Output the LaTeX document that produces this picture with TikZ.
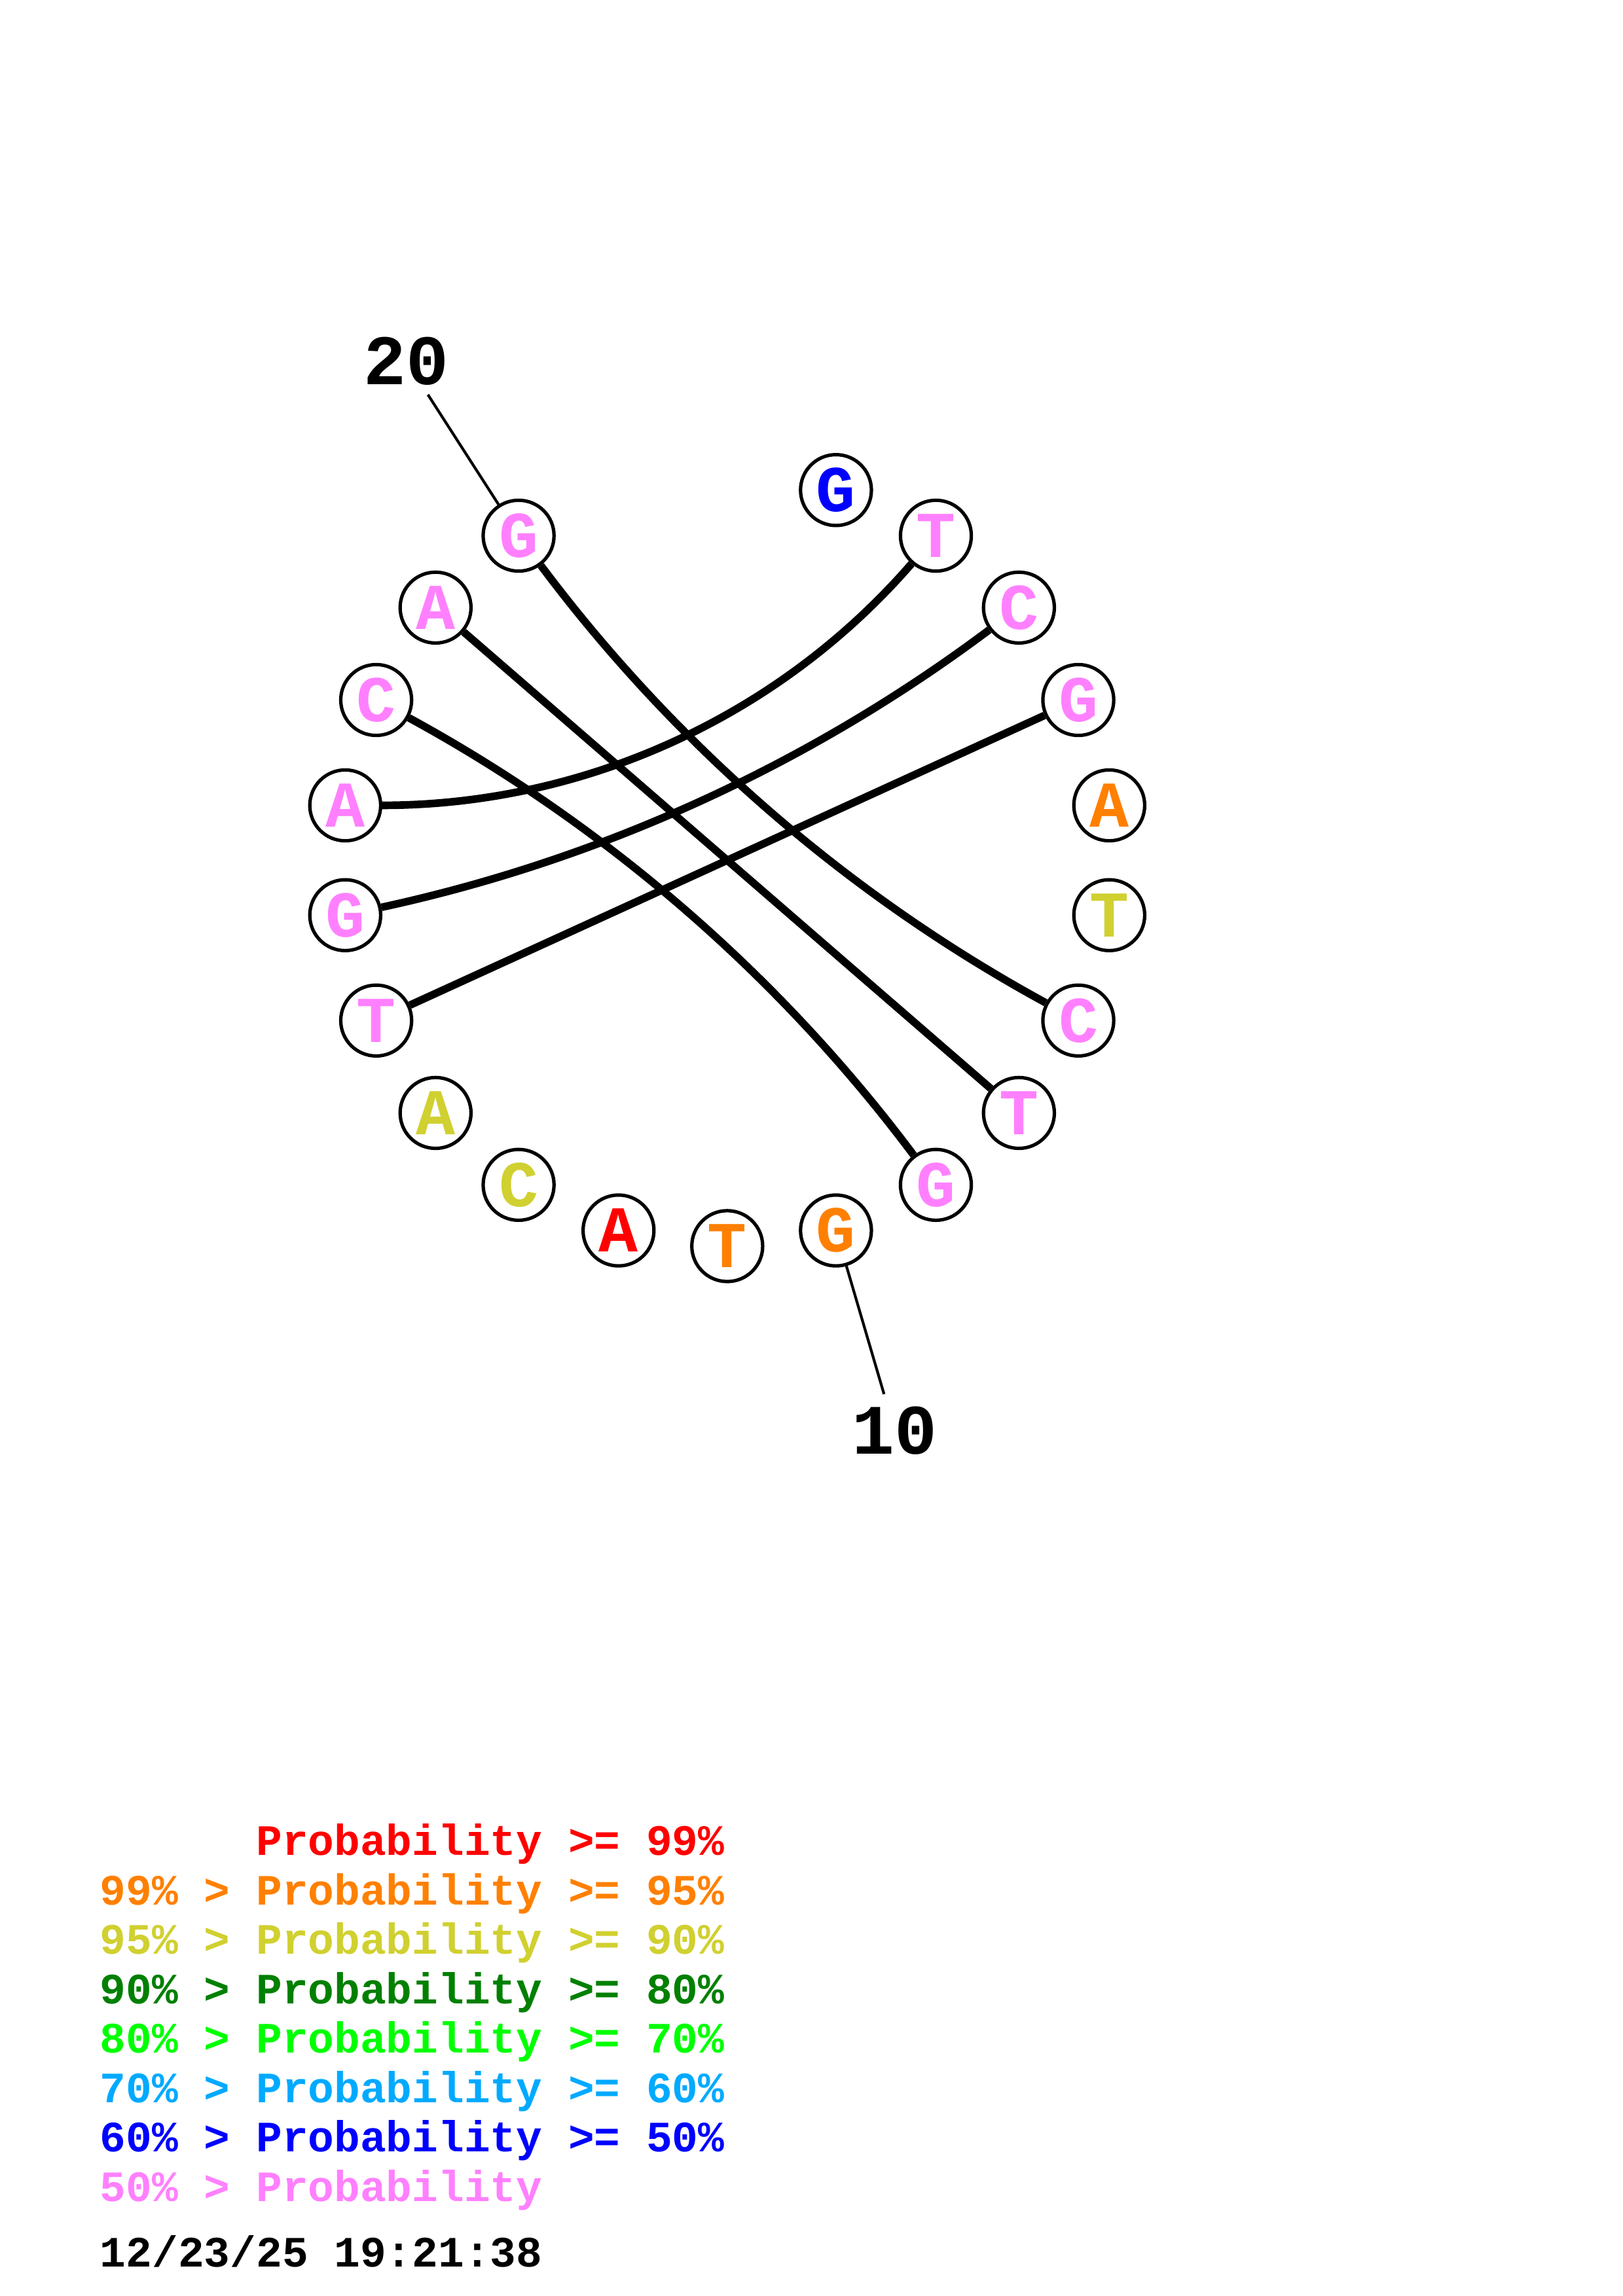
\documentclass[tikz,border=0pt]{standalone}
\usepackage{fontspec}
\newfontfamily\cour{Liberation Mono}
\usetikzlibrary{calc}
\definecolor{cred}{RGB}{255,0,0}
\definecolor{corange}{RGB}{255,128,0}
\definecolor{cyellow}{RGB}{208,208,48}
\definecolor{cdkgreen}{RGB}{0,128,0}
\definecolor{cgreen}{RGB}{0,255,0}
\definecolor{cltblue}{RGB}{0,170,255}
\definecolor{cblue}{RGB}{0,0,255}
\definecolor{cpink}{RGB}{255,128,255}
\begin{document}
\begin{tikzpicture}[x=0.53727pt,y=0.53727pt,
  nt/.style={circle,draw,line width=1.25pt,fill=white,minimum size=26pt,inner sep=0pt,
    font=\cour\bfseries\fontsize{24}{24}\selectfont},
  pairline/.style={line width=2.8pt},
  tickline/.style={line width=1pt},
  lbl/.style={inner sep=0pt,font=\cour\bfseries\fontsize{26}{26}\selectfont},
  leg/.style={anchor=base west,inner sep=0pt,font=\cour\bfseries\fontsize{15.9}{18}\selectfont}]
\path[use as bounding box,fill=white] (0,0) rectangle (1108,-1568);
\begin{scope}[shift={(496.5,-587.5)}]
  \foreach \i/\b/\c in {1/G/cblue,2/T/cpink,3/C/cpink,4/G/cpink,5/A/corange,
      6/T/cyellow,7/C/cpink,8/T/cpink,9/G/cpink,10/G/corange,11/T/corange,
      12/A/cred,13/C/cyellow,14/A/cyellow,15/T/cpink,16/G/cpink,17/A/cpink,
      18/C/cpink,19/A/cpink,20/G/cpink}
    \node[nt,text=\c] (n\i) at ({-90+(11-\i)*360/22}:263.5) {\b};
  % base pairs
  \draw[pairline] (n17) to[bend right=24.5,looseness=0.89] (n2);
  \draw[pairline] (n16) to[bend right=12.3,looseness=0.86] (n3);
  \draw[pairline] (n15) -- (n4);
  \draw[pairline] (n20) to[bend right=12.3,looseness=0.86] (n7);
  \draw[pairline] (n19) -- (n8);
  \draw[pairline] (n9) to[bend right=12.3,looseness=0.86] (n18);
  % ticks and numbers
  \coordinate (t10) at ({-90+360/22}:380);
  \coordinate (t20) at ({-90-9*360/22}:378);
  \draw[tickline] (n10) -- (t10);
  \draw[tickline] (n20) -- (t20);
  \node[lbl] (l10) at ({-90+360/22}:406) {10};
  \node[lbl] (l20) at ({-90-9*360/22}:405) {20};
\end{scope}
% legend
\node[leg,text=cred] (g1) at (68,-1266.9) {\phantom{99\% >} Probability >= 99\%};
\node[leg,text=corange] (g2) at (68,-1300.7) {99\% > Probability >= 95\%};
\node[leg,text=cyellow] (g3) at (68,-1334.5) {95\% > Probability >= 90\%};
\node[leg,text=cdkgreen] (g4) at (68,-1368.2) {90\% > Probability >= 80\%};
\node[leg,text=cgreen] (g5) at (68,-1402.0) {80\% > Probability >= 70\%};
\node[leg,text=cltblue] (g6) at (68,-1435.8) {70\% > Probability >= 60\%};
\node[leg,text=cblue] (g7) at (68,-1469.6) {60\% > Probability >= 50\%};
\node[leg,text=cpink] (g8) at (68,-1503.4) {50\% > Probability};
\node[leg,text=black] (date) at (68,-1548.2) {12/23/25 19:21:38};
\end{tikzpicture}
\end{document}
